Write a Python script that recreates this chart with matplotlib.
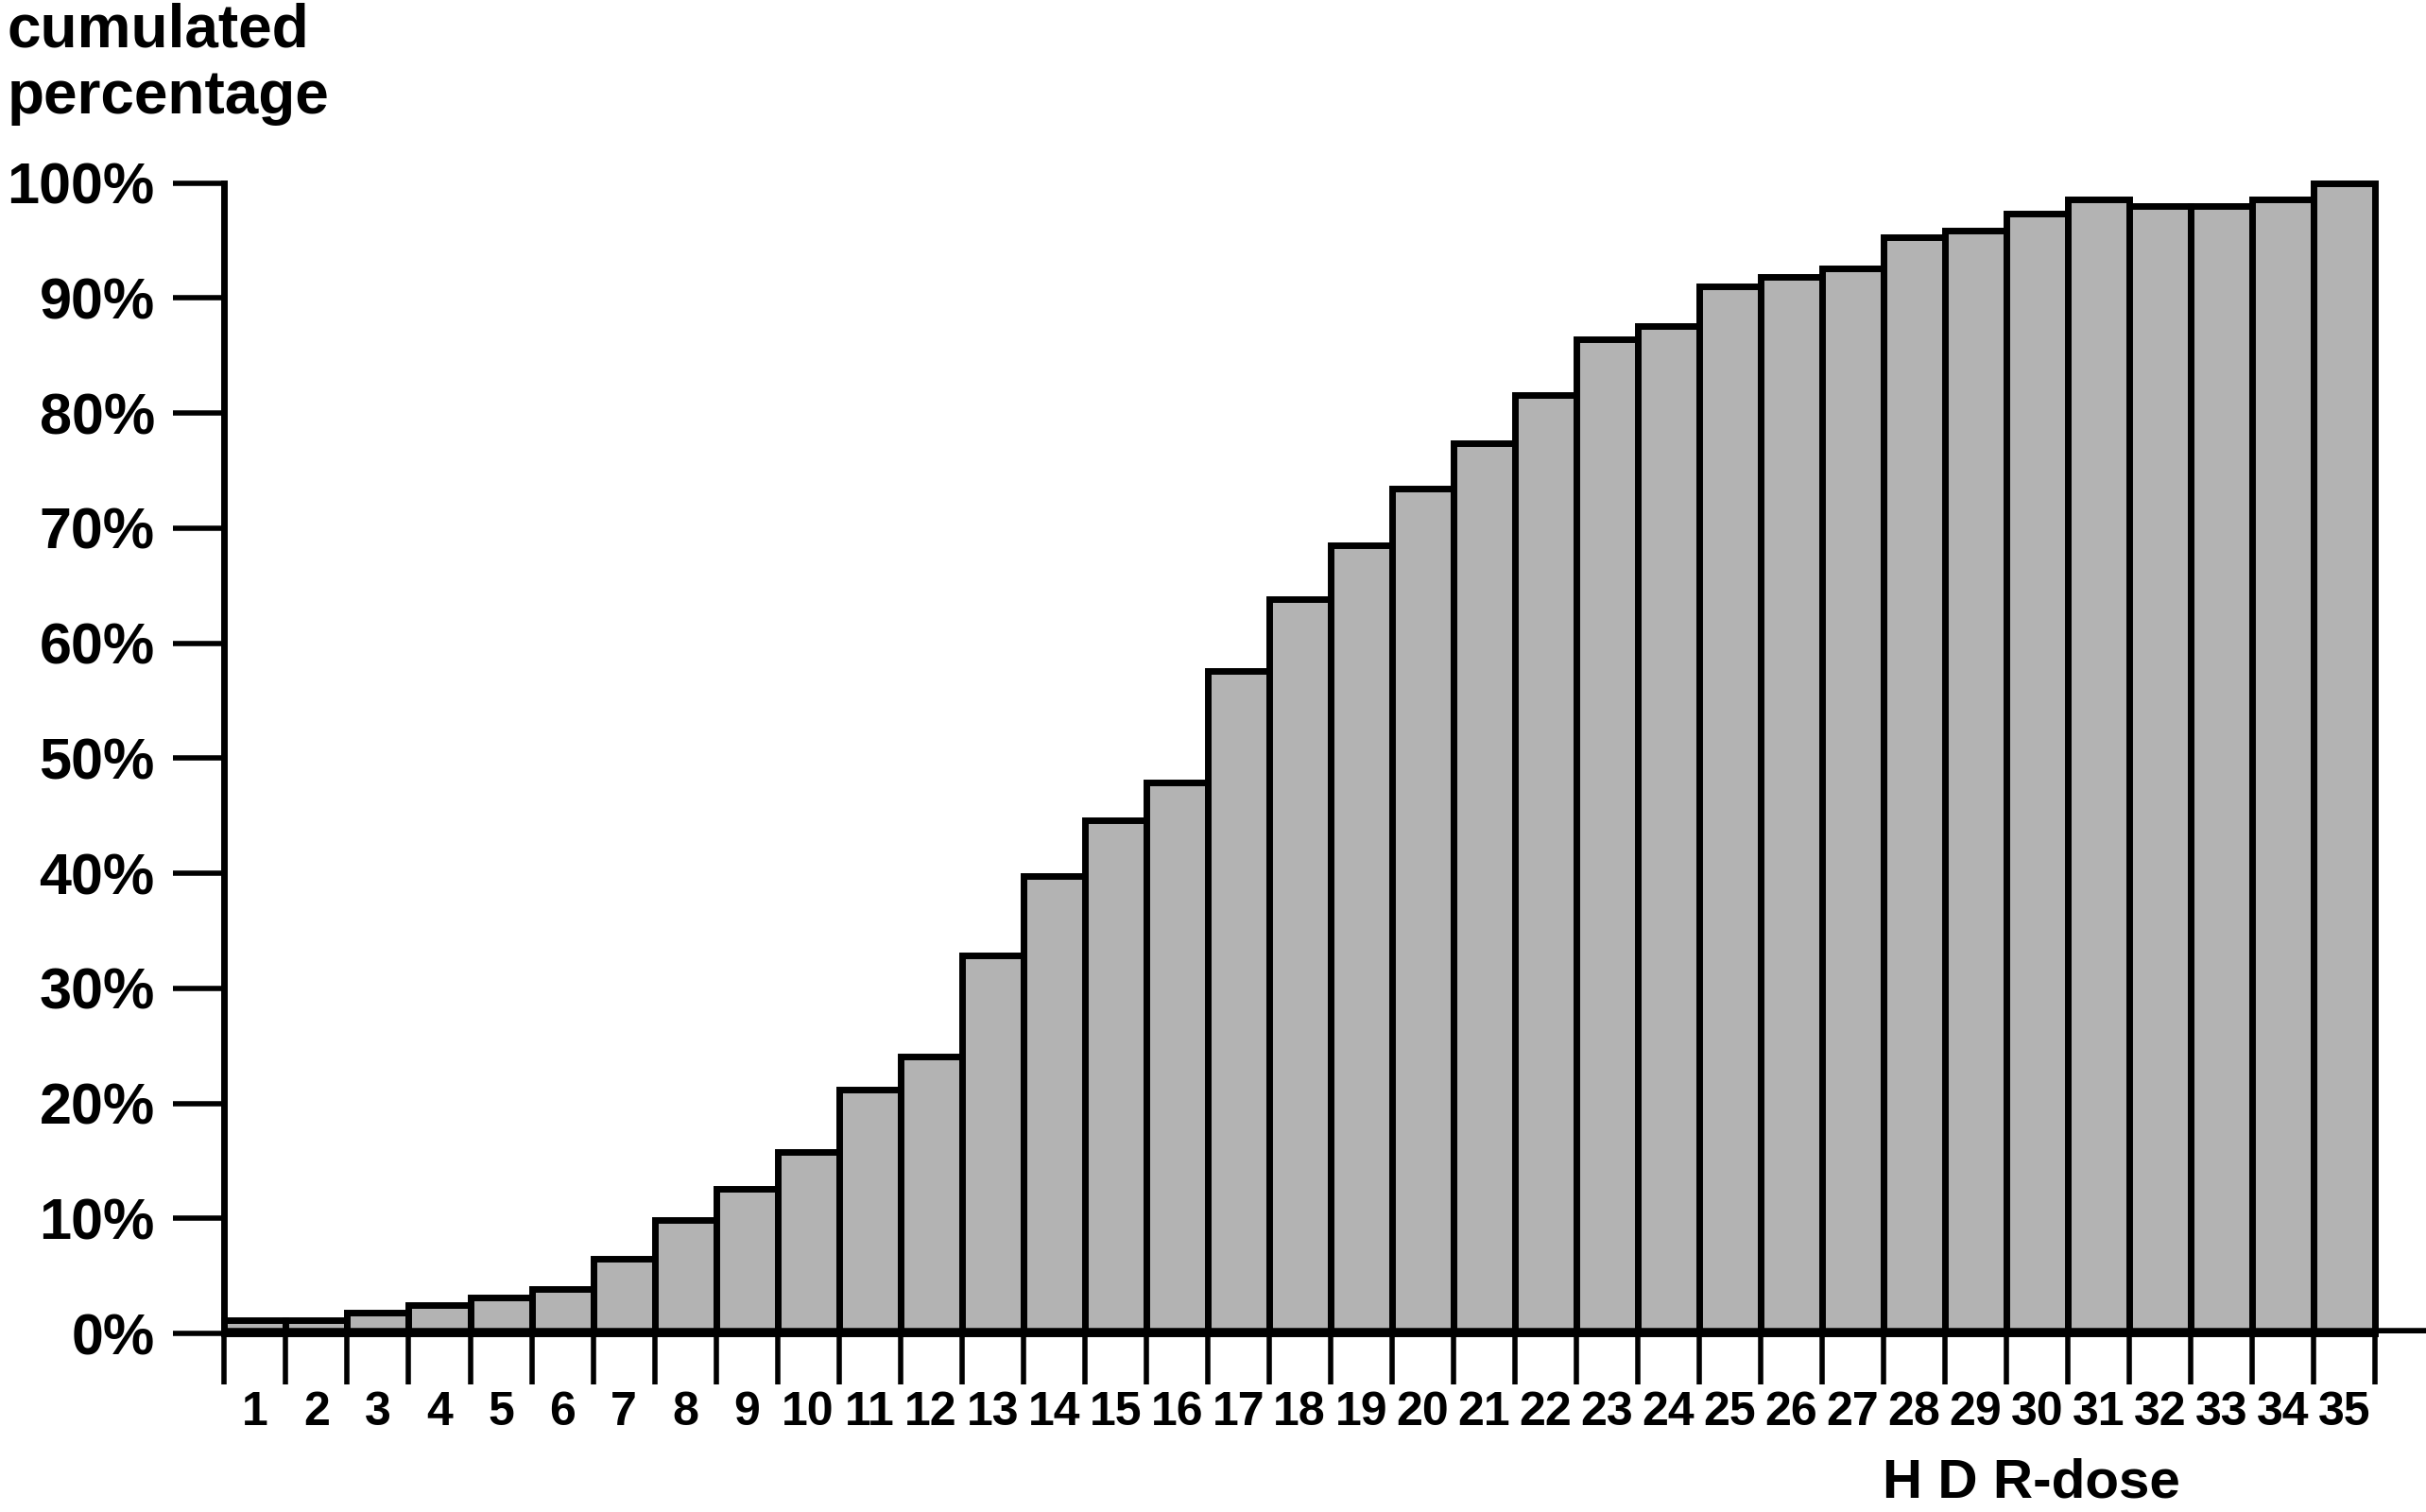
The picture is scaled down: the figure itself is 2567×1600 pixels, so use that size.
import matplotlib
matplotlib.use('Agg')
import matplotlib.pyplot as plt
import numpy as np

# data
doses = list(range(1, 36))
dose_labels = [str(d) for d in doses]
cum_pct = [1.2, 1.2, 1.8, 2.5, 3.1, 3.9, 6.5, 9.9, 12.6, 15.8,
           21.2, 24.1, 32.9, 39.8, 44.6, 47.9, 57.6, 63.8, 68.5, 73.4,
           77.4, 81.6, 86.4, 87.6, 91.0, 91.8, 92.6, 95.3, 95.9, 97.3,
           98.6, 98.0, 98.0, 98.6, 100.0]
y_ticks = list(range(0, 101, 10))
y_labels = ['%d%%' % v for v in y_ticks]

plt.rcParams['font.family'] = ['Liberation Sans', 'DejaVu Sans']
plt.rcParams['font.weight'] = 'bold'

fig = plt.figure(figsize=(25.67, 16), dpi=100)
ax = fig.add_axes([0.0925, 0.118, 1 - 0.0925, 0.879 - 0.118])

ax.bar(doses, cum_pct, width=1.0, color='#b3b3b3', edgecolor='black',
       linewidth=5, clip_on=False, zorder=2)
ax.axhline(0, color='black', linewidth=9, zorder=3)  # thick base line

ax.set_xlim(0.5, 36.33)
ax.set_ylim(0, 100)
for s in ['top', 'right', 'bottom']:
    ax.spines[s].set_visible(False)
ax.spines['left'].set_linewidth(5)
ax.spines['left'].set_bounds(0, 100)

# ticks on bar edges, labels centred under bars
ax.set_xticks(np.arange(0.5, 36, 1.0))
ax.set_xticklabels([])
ax.tick_params(axis='x', which='major', direction='out', length=39, width=4)
ax.set_xticks(doses, minor=True)
ax.set_xticklabels(dose_labels, minor=True)
ax.tick_params(axis='x', which='minor', length=0, pad=44, labelsize=36)

ax.set_yticks(y_ticks)
ax.set_yticklabels(y_labels)
ax.tick_params(axis='y', direction='out', length=39, width=4, pad=14, labelsize=44)

fig.text(0.003, 0.969, 'cumulated', fontsize=46, fontweight='bold', va='baseline', ha='left')
fig.text(0.003, 0.925, 'percentage', fontsize=46, fontweight='bold', va='baseline', ha='left')
fig.text(0.776, 0.036, 'H D R-dose', fontsize=42, fontweight='bold', va='top', ha='left')

plt.savefig('out.png', dpi=100)
